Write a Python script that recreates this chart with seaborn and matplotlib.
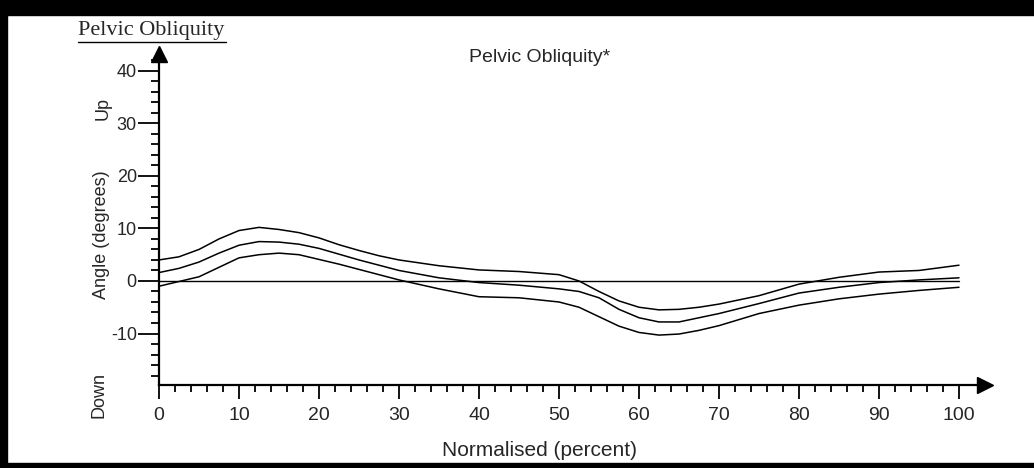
import numpy as np
import pandas as pd
import matplotlib
matplotlib.use('Agg')
import matplotlib.pyplot as plt
import seaborn as sns
from matplotlib.patches import Rectangle
from matplotlib.lines import Line2D
from matplotlib.ticker import FixedLocator

# gait cycle (percent) and pelvic obliquity curves (degrees)
pct = [0, 2.5, 5, 7.5, 10, 12.5, 15, 17.5, 20, 22.5, 25, 27.5, 30, 35, 40, 45, 50,
       52.5, 55, 57.5, 60, 62.5, 65, 67.5, 70, 75, 80, 85, 90, 95, 100]
upper = [4.0, 4.6, 6.0, 8.0, 9.6, 10.2, 9.8, 9.2, 8.2, 6.9, 5.8, 4.8, 4.0, 2.9, 2.1, 1.8, 1.2,
         0.0, -2.0, -3.8, -5.0, -5.5, -5.4, -5.0, -4.4, -2.8, -0.6, 0.7, 1.7, 2.0, 3.0]
mean = [1.6, 2.4, 3.6, 5.3, 6.8, 7.5, 7.4, 7.0, 6.2, 5.1, 4.0, 3.0, 2.0, 0.6, -0.3, -0.8, -1.5,
        -2.0, -3.2, -5.4, -7.0, -7.8, -7.8, -7.0, -6.2, -4.3, -2.3, -1.2, -0.3, 0.2, 0.6]
lower = [-1.0, -0.1, 0.8, 2.6, 4.4, 5.0, 5.3, 5.0, 4.1, 3.2, 2.2, 1.2, 0.2, -1.5, -3.0, -3.2, -4.0,
         -5.0, -6.8, -8.6, -9.8, -10.3, -10.1, -9.4, -8.5, -6.2, -4.6, -3.4, -2.5, -1.8, -1.2]

ytick_major = [-10, 0, 10, 20, 30, 40]
xtick_major = list(range(0, 101, 10))

df = pd.DataFrame({
    'pct': pct * 3,
    'angle': upper + mean + lower,
    'band': ['upper'] * len(pct) + ['mean'] * len(pct) + ['lower'] * len(pct),
})

sns.set_style('ticks')
plt.rcParams['font.family'] = ['Liberation Sans', 'DejaVu Sans']
plt.rcParams['axes.unicode_minus'] = False

fig = plt.figure(figsize=(10.34, 4.68), dpi=100, facecolor='white')
ax = fig.add_axes([0.15377, 0.17735, 0.79884, 0.70727])

# zero line
ax.plot([0, 100], [0, 0], color='black', lw=1.0)

sns.lineplot(data=df, x='pct', y='angle', hue='band',
             palette={'upper': 'black', 'mean': 'black', 'lower': 'black'},
             lw=1.1, legend=False, ax=ax, sort=False)

ax.set_xlim(0, 103.25)
ax.set_ylim(-19.8, 43.2)
ax.set_xlabel('')
ax.set_ylabel('')

for s in ['top', 'right']:
    ax.spines[s].set_visible(False)
for s in ['left', 'bottom']:
    ax.spines[s].set_linewidth(1.6)
    ax.spines[s].set_color('black')

ax.xaxis.set_major_locator(FixedLocator(xtick_major))
ax.xaxis.set_minor_locator(FixedLocator(list(range(0, 101, 2))))
ax.yaxis.set_major_locator(FixedLocator(ytick_major))
ax.yaxis.set_minor_locator(FixedLocator(list(range(-18, 43, 2))))

ax.tick_params(axis='x', which='major', length=10, width=1.3, labelsize=14, pad=6, color='black')
ax.tick_params(axis='x', which='minor', length=5, width=1.3, color='black')
ax.tick_params(axis='y', which='major', length=15, width=1.3, labelsize=13, pad=1, color='black')
ax.tick_params(axis='y', which='minor', length=5.5, width=1.3, color='black')

# axis arrows
ax.plot(0, 1, '^k', ms=12, transform=ax.transAxes, clip_on=False)
ax.plot(1, 0, '>k', ms=12, transform=ax.transAxes, clip_on=False)

ax.set_facecolor('white')

# texts
fig.text(78 / 1034, 1 - 31 / 468, 'Pelvic Obliquity', family=['Liberation Serif', 'DejaVu Serif'],
         fontsize=16, ha='left', va='center')
fig.add_artist(Line2D([78 / 1034, 226 / 1034], [1 - 42 / 468, 1 - 42 / 468],
                      color='black', lw=1.0, transform=fig.transFigure))
fig.text(540 / 1034, 1 - 57 / 468, 'Pelvic Obliquity*', fontsize=14, ha='center', va='center')
fig.text(539 / 1034, 1 - 451 / 468, 'Normalised (percent)', fontsize=15, ha='center', va='center')
fig.text(103 / 1034, 1 - 108 / 468, 'Up', fontsize=13, rotation=90, ha='center', va='center')
fig.text(101 / 1034, 1 - 235 / 468, 'Angle (degrees)', fontsize=13, rotation=90, ha='center', va='center')
fig.text(99 / 1034, 1 - 395 / 468, 'Down', fontsize=13, rotation=90, ha='center', va='center')

# black frame bits of the screenshot
fig.add_artist(Rectangle((0, 1 - 15 / 468), 1, 15 / 468, color='black', transform=fig.transFigure))
fig.add_artist(Rectangle((0, 0), 7 / 1034, 1, color='black', transform=fig.transFigure))
fig.add_artist(Rectangle((0, 0), 1, 5 / 468, color='black', transform=fig.transFigure))

fig.savefig('out.png', dpi=100, facecolor='white')
